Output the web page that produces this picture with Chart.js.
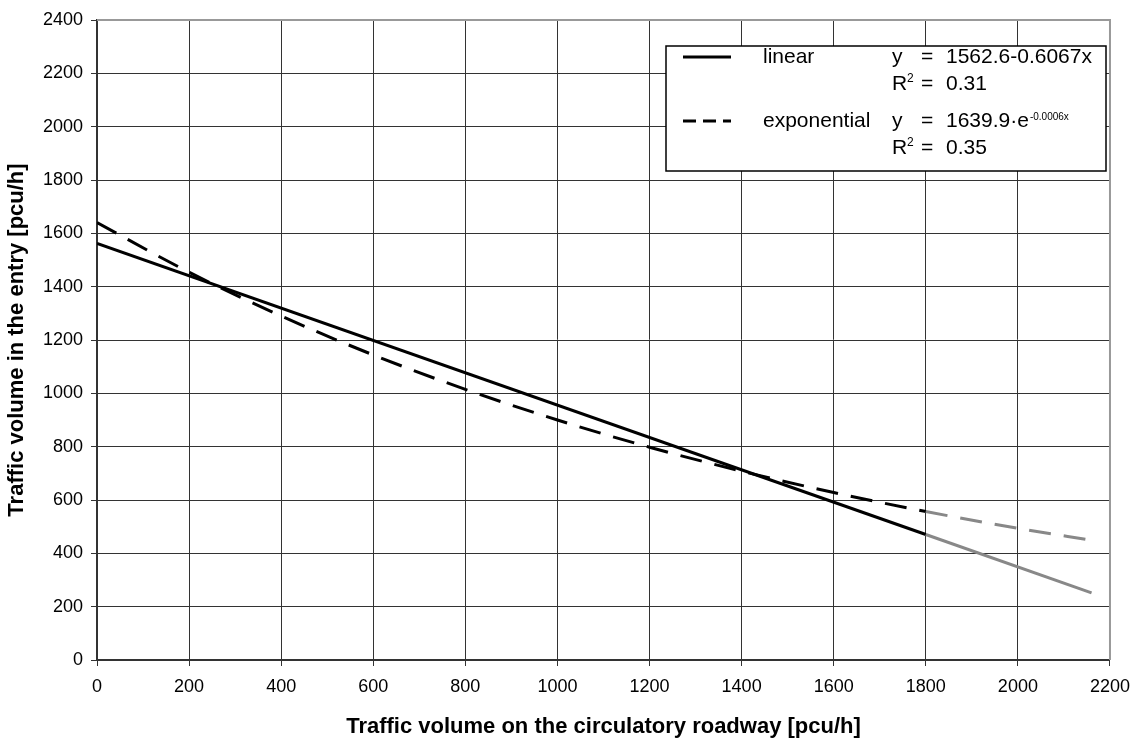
<!DOCTYPE html>
<html>
<head>
<meta charset="utf-8">
<script src="https://cdn.jsdelivr.net/npm/chart.js@4.4.0/dist/chart.umd.min.js"></script>
<style>
  html, body { margin: 0; padding: 0; background: #fff; }
  #wrap { width: 1140px; height: 740px; position: relative; }
</style>
</head>
<body>
<div id="wrap"><canvas id="fit" width="1140" height="740"></canvas></div>
<script>
// regression lines, read point by point
const linearX = [0, 1800, 2160];
const linearY = [1562.6, 470.5, 252];
const expX = [0, 200, 400, 600, 800, 1000, 1200, 1400, 1600, 1800, 2000, 2160];
const expY = [1640, 1454, 1290, 1144, 1015, 900, 798, 708, 628, 557, 494, 449];
const measuredUpTo = 1800; // past this the lines are extrapolated (grey)

const xTicks = [0, 200, 400, 600, 800, 1000, 1200, 1400, 1600, 1800, 2000, 2200];
const yTicks = [0, 200, 400, 600, 800, 1000, 1200, 1400, 1600, 1800, 2000, 2200, 2400];

const legendRows = [
  { label: 'linear', dash: [], eq: ['1562.6-0.6067x', ''], r2: '0.31' },
  { label: 'exponential', dash: [13, 7], eq: ['1639.9\u00b7e', '-0.0006x'], r2: '0.35' }
];

const FONT = '"Liberation Sans", Arial, sans-serif';
const BLACK = '#000';
const GREY = '#888';

const toPoints = (xs, ys) => xs.map((x, i) => ({ x: x, y: ys[i] }));
const segColor = ctx => ctx.p0.parsed.x >= measuredUpTo ? GREY : BLACK;

// frame on top/right plus the legend box with equations
const frameAndLegend = {
  id: 'frameAndLegend',
  afterDraw(chart) {
    const ctx = chart.ctx;
    const a = chart.chartArea;
    ctx.save();
    ctx.strokeStyle = '#999';
    ctx.lineWidth = 2;
    ctx.beginPath();
    ctx.moveTo(a.left, a.top);
    ctx.lineTo(a.right, a.top);
    ctx.lineTo(a.right, a.bottom);
    ctx.stroke();

    const bx = 666, by = 46, bw = 440, bh = 125;
    ctx.fillStyle = '#fff';
    ctx.fillRect(bx, by, bw, bh);
    ctx.strokeStyle = '#000';
    ctx.lineWidth = 1.5;
    ctx.strokeRect(bx, by, bw, bh);

    ctx.fillStyle = '#000';
    ctx.textBaseline = 'middle';
    legendRows.forEach((row, i) => {
      const y1 = 57 + i * 64;
      const y2 = y1 + 27;
      ctx.lineWidth = 3;
      ctx.setLineDash(row.dash);
      ctx.beginPath();
      ctx.moveTo(683, y1);
      ctx.lineTo(731, y1);
      ctx.stroke();
      ctx.setLineDash([]);

      ctx.font = '21px ' + FONT;
      ctx.fillText(row.label, 763, y1);
      ctx.fillText('y', 892, y1);
      ctx.fillText('=', 921, y1);
      ctx.fillText(row.eq[0], 946, y1);
      if (row.eq[1]) {
        const w = ctx.measureText(row.eq[0]).width;
        ctx.font = '10px ' + FONT;
        ctx.fillText(row.eq[1], 946 + w + 1, y1 - 4);
        ctx.font = '21px ' + FONT;
      }
      ctx.fillText('R', 892, y2);
      ctx.font = '12px ' + FONT;
      ctx.fillText('2', 907, y2 - 5);
      ctx.font = '21px ' + FONT;
      ctx.fillText('=', 921, y2);
      ctx.fillText(row.r2, 946, y2);
    });
    ctx.restore();
  }
};

new Chart(document.getElementById('fit'), {
  type: 'line',
  data: {
    datasets: [
      {
        label: 'linear',
        data: toPoints(linearX, linearY),
        borderColor: BLACK,
        borderWidth: 3,
        pointRadius: 0,
        segment: { borderColor: segColor }
      },
      {
        label: 'exponential',
        data: toPoints(expX, expY),
        borderColor: BLACK,
        borderWidth: 3,
        borderDash: [22, 13],
        pointRadius: 0,
        cubicInterpolationMode: 'monotone',
        segment: { borderColor: segColor }
      }
    ]
  },
  options: {
    responsive: false,
    animation: false,
    devicePixelRatio: 1,
    layout: { padding: { top: 20, right: 18, left: 0, bottom: 0 } },
    plugins: {
      legend: { display: false },
      tooltip: { enabled: false }
    },
    scales: {
      x: {
        type: 'linear',
        min: 0,
        max: 2200,
        afterBuildTicks: s => { s.ticks = xTicks.map(v => ({ value: v })); },
        afterFit: s => { s.height = 80; },
        border: { color: '#333', width: 2 },
        grid: { color: '#333', lineWidth: 1, tickLength: 6 },
        ticks: {
          color: '#000', font: { family: FONT, size: 18 }, padding: 10,
          maxRotation: 0, autoSkip: false, callback: v => String(v)
        },
        title: {
          display: true,
          text: 'Traffic volume on the circulatory roadway [pcu/h]',
          color: '#000',
          font: { family: FONT, size: 22, weight: 'bold' },
          padding: { top: 0, bottom: 0 }
        }
      },
      y: {
        min: 0,
        max: 2400,
        afterBuildTicks: s => { s.ticks = yTicks.map(v => ({ value: v })); },
        afterFit: s => { s.width = 97; },
        border: { color: '#333', width: 2 },
        grid: { color: '#333', lineWidth: 1, tickLength: 6 },
        ticks: {
          color: '#000', font: { family: FONT, size: 18 }, padding: 8,
          autoSkip: false, callback: v => String(v)
        },
        title: {
          display: true,
          text: 'Traffic volume in the entry [pcu/h]',
          color: '#000',
          font: { family: FONT, size: 22, weight: 'bold' },
          padding: { top: 4, bottom: 0 }
        }
      }
    }
  },
  plugins: [frameAndLegend]
});
</script>
</body>
</html>
